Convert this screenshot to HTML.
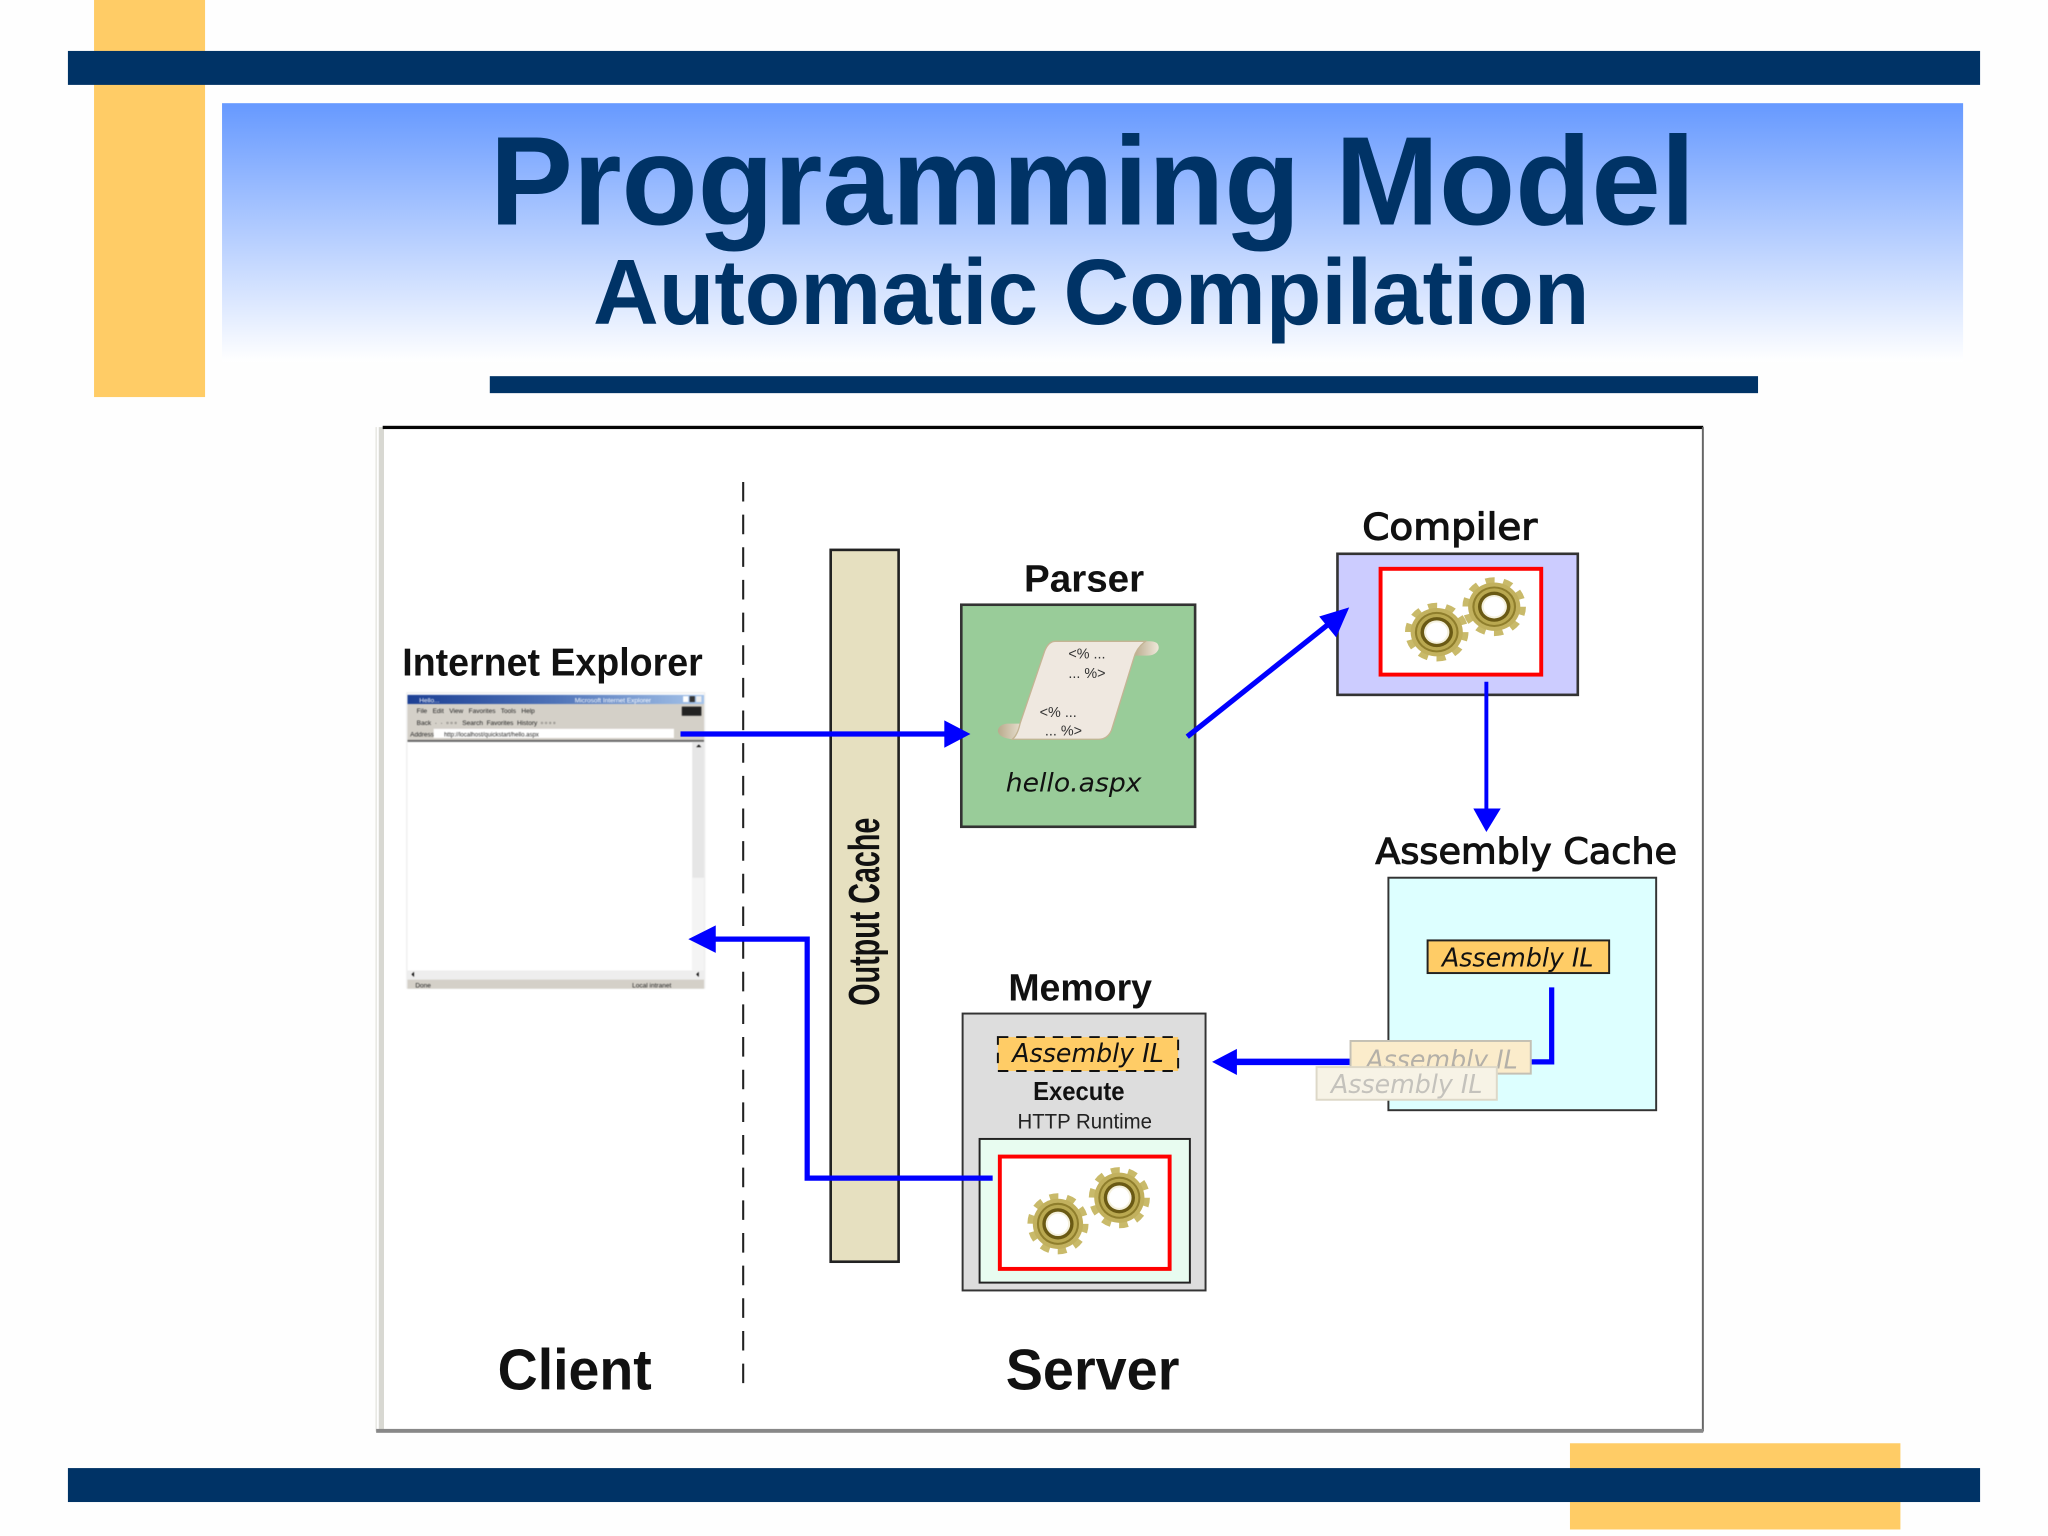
<!DOCTYPE html>
<html><head><meta charset="utf-8"><title>Programming Model</title>
<style>
html,body{margin:0;padding:0;background:#fefefe}
svg{display:block}
text{font-family:"Liberation Sans",sans-serif}
.dv{font-family:"DejaVu Sans",sans-serif}
.b{font-weight:bold}
</style></head><body>
<svg width="2048" height="1536" viewBox="0 0 1568 1176" xmlns="http://www.w3.org/2000/svg">
<defs>
<linearGradient id="g" x1="0" y1="0" x2="0" y2="1"><stop offset="0" stop-color="#6699ff"/><stop offset="1" stop-color="#ffffff"/></linearGradient>
<linearGradient id="tb" x1="0" y1="0" x2="1" y2="0"><stop offset="0" stop-color="#1c3f94"/><stop offset="0.5" stop-color="#4f73b8"/><stop offset="1" stop-color="#a6c4ea"/></linearGradient>
<linearGradient id="c" x1="0" y1="0" x2="1" y2="0"><stop offset="0" stop-color="#b9aa8c"/><stop offset="1" stop-color="#efe8da"/></linearGradient>
<g id="gear">
<circle r="20" fill="none" stroke="#c9ba6a" stroke-width="5" stroke-dasharray="6.4 6.17"/>
<circle r="18.500" fill="#c2b15e"/>
<circle r="15.500" fill="#8f7e2c"/>
<circle r="14" fill="#b9a850"/>
<circle r="11.500" fill="#6a5a14"/>
<circle r="9" fill="#f4f0dc"/>
<circle r="7.500" fill="#ffffff"/>
</g>
</defs>
<rect width="1568" height="1176" fill="#fefefe"/>
<rect x="72" y="0" width="85" height="304" fill="#ffcc66"/>
<rect x="52" y="39" width="1464" height="26" fill="#003366"/>
<rect x="170" y="79" width="1333" height="198" fill="url(#g)"/>
<text x="375" y="172" class="b" font-size="97" fill="#003366" textLength="923" lengthAdjust="spacingAndGlyphs">Programming Model</text>
<text x="454" y="248" class="b" font-size="71" fill="#003366" textLength="763" lengthAdjust="spacingAndGlyphs">Automatic Compilation</text>
<rect x="375" y="288" width="971" height="13" fill="#003366"/>

<rect x="1202" y="1105" width="253" height="66" fill="#ffcc66"/>
<rect x="52" y="1124" width="1464" height="26" fill="#003366"/>

<!-- frame -->
<rect x="291" y="328" width="1012" height="767" fill="#ffffff"/>
<rect x="287.500" y="327" width="1" height="769" fill="#e4e4de"/>
<rect x="290" y="327" width="4" height="769" fill="#d8d8d2"/>
<rect x="293" y="326" width="1011" height="2.500" fill="#050505"/>
<rect x="1303" y="327" width="1.500" height="769" fill="#666"/>
<rect x="288" y="1094" width="1016" height="3" fill="#888"/>

<line x1="569" y1="369" x2="569" y2="1066" stroke="#222" stroke-width="1.6" stroke-dasharray="15 10"/>

<!-- Output cache -->
<rect x="636" y="421" width="52" height="545" fill="#e6e0c0" stroke="#222" stroke-width="2"/>
<text transform="translate(673,770) rotate(-90)" class="b" font-size="33" fill="#111" textLength="144" lengthAdjust="spacingAndGlyphs">Output Cache</text>

<!-- IE -->
<text x="308" y="517" class="b" font-size="30" fill="#111" textLength="230" lengthAdjust="spacingAndGlyphs">Internet Explorer</text>
<g style="filter:blur(0.45px)">
<rect x="311" y="530" width="229" height="227" fill="#eeeeee"/>
<rect x="312" y="531" width="227" height="225" fill="#ffffff"/>
<rect x="312" y="532" width="227" height="7" fill="url(#tb)"/>
<text x="321" y="538" font-size="5" fill="#fff">Hello...</text>
<text x="440" y="538" font-size="5" fill="#fff">Microsoft Internet Explorer</text>
<rect x="523" y="533" width="4" height="4.500" fill="#fff"/><rect x="528" y="533" width="4" height="4.500" fill="#333"/><rect x="533" y="533" width="4" height="4.500" fill="#eee"/>
<rect x="312" y="539" width="227" height="28" fill="#d4d0c8"/>
<text x="319" y="546" font-size="5" fill="#222" xml:space="preserve">File   Edit   View   Favorites   Tools   Help</text>
<rect x="522" y="541" width="15" height="7" fill="#222"/>
<text x="319" y="555" font-size="5" fill="#222" xml:space="preserve">Back  ·  ·  ▫ ▫ ▫   Search  Favorites  History  ▫ ▫ ▫ ▫</text>
<text x="314" y="564" font-size="5" fill="#222">Address</text>
<rect x="332" y="558" width="184" height="7" fill="#ffffff"/>
<text x="340" y="564" font-size="4.600" fill="#222">http://localhost/quickstart/hello.aspx</text>
<rect x="312" y="566.500" width="227" height="1.500" fill="#666"/>
<rect x="530" y="568" width="9" height="176" fill="#e6e6e6"/>
<rect x="530" y="672" width="9" height="72" fill="#f4f4f4"/>
<path d="M533 572l2-2 2 2z" fill="#111"/>
<rect x="312" y="743" width="227" height="7" fill="#eeeeee"/>
<rect x="312" y="750" width="227" height="7" fill="#d4d0c8"/>
<path d="M315 746l2-2v4z M533 746l2-2v4z" fill="#111"/>
<text x="318" y="756" font-size="5" fill="#222">Done</text>
<text x="484" y="756" font-size="5" fill="#222">Local intranet</text>
</g>

<!-- Parser -->
<text x="784" y="453" class="b" font-size="29" fill="#111" textLength="92" lengthAdjust="spacingAndGlyphs">Parser</text>
<rect x="736" y="463" width="179" height="170" fill="#99cc99" stroke="#333" stroke-width="2"/>
<path d="M870 491 H880 Q888 491 887 497 Q885 502 878 502 L868 502 Z" fill="url(#c)"/>
<path d="M781 554 H771 Q764 555 764 560 Q765 565 775 566 L785 566 Z" fill="url(#c)"/>
<path d="M808 491 H877 Q870 496 868 504 L851 559 Q848 566 841 566 H775 Q779 563 781 554 L800 498 Q803 491 808 491 Z" fill="#efe8e0" stroke="#c4b494" stroke-width="1"/>
<g style="filter:blur(0.3px)">
<text x="818" y="504" font-size="11" fill="#333" xml:space="preserve">&lt;% ...</text>
<text x="818" y="519" font-size="11" fill="#333" xml:space="preserve">... %&gt;</text>
<text x="796" y="549" font-size="11" fill="#333" xml:space="preserve">&lt;% ...</text>
<text x="800" y="563" font-size="11" fill="#333" xml:space="preserve">... %&gt;</text>
</g>
<text x="770" y="606" class="dv" font-style="italic" font-size="20" fill="#111" textLength="104" lengthAdjust="spacingAndGlyphs">hello.aspx</text>

<!-- Compiler -->
<text x="1043" y="413" class="dv" font-size="28" fill="#111" stroke="#111" stroke-width="0.9" textLength="134" lengthAdjust="spacingAndGlyphs">Compiler</text>
<rect x="1024" y="424" width="184" height="108" fill="#ccccff" stroke="#333" stroke-width="2"/>
<rect x="1057" y="435.500" width="123" height="81" fill="#ffffff" stroke="#ff0000" stroke-width="3"/>
<use href="#gear" transform="translate(1100,484) scale(1.08,1)"/>
<use href="#gear" transform="translate(1144,464.500) scale(1.08,1)"/>

<!-- Assembly cache -->
<text x="1053" y="661" class="dv" font-size="27" fill="#111" stroke="#111" stroke-width="0.8" textLength="231" lengthAdjust="spacingAndGlyphs">Assembly Cache</text>
<rect x="1063" y="672" width="205" height="178" fill="#ddffff" stroke="#333" stroke-width="1.500"/>
<rect x="1093" y="720" width="139" height="25" fill="#ffcc66" stroke="#222" stroke-width="1.500"/>
<text x="1104" y="740" class="dv" font-style="italic" font-size="20" fill="#111" textLength="116" lengthAdjust="spacingAndGlyphs">Assembly IL</text>

<path d="M1188 756 V813 H1172" fill="none" stroke="#0000ff" stroke-width="4"/>
<line x1="1036" y1="813" x2="945" y2="813" stroke="#0000ff" stroke-width="5"/>
<path d="M928 813 L947 803 V823 Z" fill="#0000ff"/>

<!-- ghost boxes -->
<rect x="1034" y="797" width="138" height="25" fill="#fbeccb" stroke="#c4c0b4" stroke-width="1.500"/>
<text x="1046" y="818" class="dv" font-style="italic" font-size="20" fill="#b4b0a8" textLength="116" lengthAdjust="spacingAndGlyphs">Assembly IL</text>
<rect x="1008" y="817" width="138" height="25" fill="#f7f3e6" stroke="#ddd8c8" stroke-width="1.500"/>
<text x="1019" y="837" class="dv" font-style="italic" font-size="20" fill="#c4c2bc" textLength="116" lengthAdjust="spacingAndGlyphs">Assembly IL</text>

<!-- Memory -->
<text x="772" y="766" class="b" font-size="29" fill="#111" textLength="110" lengthAdjust="spacingAndGlyphs">Memory</text>
<rect x="737" y="776" width="186" height="212" fill="#dddddd" stroke="#333" stroke-width="1.500"/>
<rect x="764" y="794" width="138" height="26" fill="#ffcc66" stroke="#111" stroke-width="1.500" stroke-dasharray="8 6"/>
<text x="775" y="813" class="dv" font-style="italic" font-size="20" fill="#111" textLength="116" lengthAdjust="spacingAndGlyphs">Assembly IL</text>
<text x="791" y="842" class="b" font-size="20" fill="#111" textLength="70" lengthAdjust="spacingAndGlyphs">Execute</text>
<text x="779" y="864" font-size="16" fill="#222" textLength="103" lengthAdjust="spacingAndGlyphs">HTTP Runtime</text>
<rect x="750" y="872" width="161" height="110" fill="#e8fcf0" stroke="#222" stroke-width="1.500"/>
<rect x="765.500" y="885.500" width="130" height="86" fill="#ffffff" stroke="#ff0000" stroke-width="3"/>
<use href="#gear" transform="translate(810,937) scale(1.04,1.04)"/>
<use href="#gear" transform="translate(857,917) scale(1.04,1.04)"/>

<!-- connectors -->
<line x1="521" y1="562" x2="726" y2="562" stroke="#0000ff" stroke-width="4"/>
<path d="M743 562 L723 551.500 V572.500 Z" fill="#0000ff"/>
<line x1="909" y1="564" x2="1022" y2="474" stroke="#0000ff" stroke-width="4"/>
<path d="M1033 465 L1023 488 L1010 472 Z" fill="#0000ff"/>
<line x1="1138" y1="522" x2="1138" y2="622" stroke="#0000ff" stroke-width="3"/>
<path d="M1138 637 L1128 619 H1149 Z" fill="#0000ff"/>
<path d="M760 902 H618 V719 H544" fill="none" stroke="#0000ff" stroke-width="4"/>
<path d="M527 719 L548 708.500 V729.500 Z" fill="#0000ff"/>

<text x="381" y="1064" class="b" font-size="44" fill="#111" textLength="118" lengthAdjust="spacingAndGlyphs">Client</text>
<text x="770" y="1064" class="b" font-size="44" fill="#111" textLength="133" lengthAdjust="spacingAndGlyphs">Server</text>
</svg>
</body></html>
